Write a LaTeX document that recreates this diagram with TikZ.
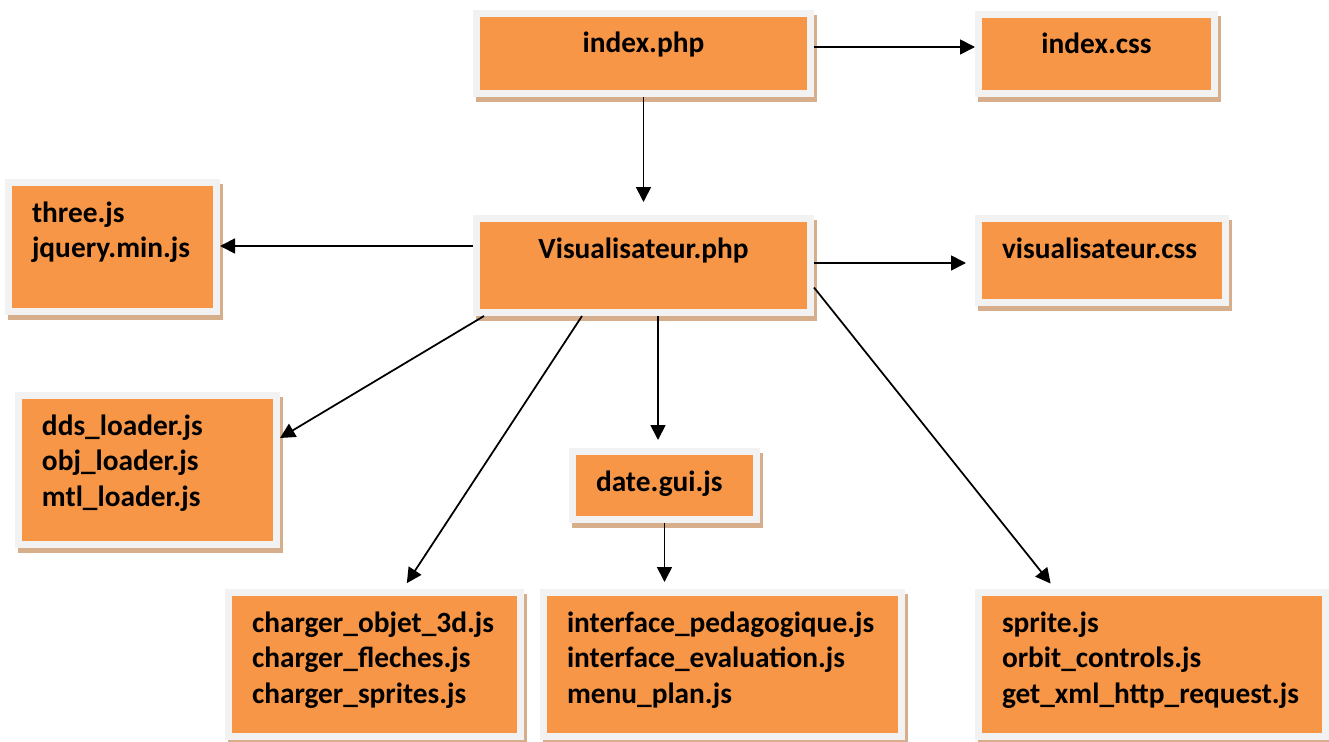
\documentclass[tikz,border=0pt]{standalone}
\usepackage{fontspec}
\setmainfont{Carlito}
\usepackage{tikz}
\usetikzlibrary{positioning,calc,arrows.meta,shadows}
\definecolor{boxorange}{RGB}{247,150,70}
\definecolor{framegray}{RGB}{242,242,242}
\definecolor{shadowtan}{RGB}{214,174,140}

\begin{document}
\begin{tikzpicture}[
  filebox/.style 2 args={draw=framegray,line width=0.14cm,fill=boxorange,
            general shadow={draw=shadowtan,fill=shadowtan,line width=0.14cm,
                            shadow xshift=0.06cm,shadow yshift=-0.1cm},
            anchor=north west,inner xsep=0.47cm,inner ysep=0.29cm,
            text width=#1cm-0.94cm,text height=0.5cm,text depth=#2cm-1.08cm,
            align=left,font=\fontsize{16.7pt}{20.4pt}\selectfont\bfseries},
  arr/.style={-{Triangle[length=0.3cm,width=0.3cm]},line width=1pt,color=black}]
  \useasboundingbox (0,0) rectangle (26.58,-14.84);

  % pages and style sheets
  \node[filebox={6.68}{1.60},align=center] (idxphp)  at (9.46,-0.20)  {index.php};
  \node[filebox={4.72}{1.58},align=center] (idxcss)  at (19.50,-0.22) {index.css};
  \node[filebox={6.68}{1.88},align=center] (visu)    at (9.46,-4.30)  {Visualisateur.php};
  \node[filebox={4.94}{1.68}]              (visucss) at (19.50,-4.30) {visualisateur.css};

  % scripts
  \node[filebox={4.16}{2.58}] (libs)    at (0.10,-3.58)  {three.js\\jquery.min.js};
  \node[filebox={5.16}{2.98}] (loaders) at (0.30,-7.84)  {dds\_loader.js\\obj\_loader.js\\mtl\_loader.js};
  \node[filebox={3.68}{1.36}] (dategui) at (11.38,-8.96) {date.gui.js};
  \node[filebox={5.84}{2.88}] (charger) at (4.50,-11.78) {charger\_objet\_3d.js\\charger\_fleches.js\\charger\_sprites.js};
  \node[filebox={7.16}{2.88}] (iface)   at (10.80,-11.78) {interface\_pedagogique.js\\interface\_evaluation.js\\menu\_plan.js};
  \node[filebox={6.94}{2.88}] (sprite)  at (19.50,-11.78) {sprite.js\\orbit\_controls.js\\get\_xml\_http\_request.js};

  % links
  \draw[arr] ([yshift=0.13cm]idxphp.east) -- ([yshift=0.13cm]idxphp.east -| idxcss.west);
  \draw[arr,shorten >=0.26cm] (idxphp) -- (visu);
  \draw[arr] ([yshift=0.39cm]visu.west) -- ([yshift=0.39cm]visu.west -| libs.east);
  \draw[arr,shorten >=0.18cm] ([yshift=0.05cm]visu.east) -- ([yshift=0.05cm]visu.east -| visucss.west);
  \draw[arr] ([xshift=0.22cm]visu.south west) -- ([yshift=0.64cm]loaders.east);
  \draw[arr,shorten >=0.14cm] ([xshift=-1.23cm]visu.south) -- ([xshift=0.57cm]charger.north);
  \draw[arr,shorten >=0.16cm] ([xshift=0.29cm]visu.south) -- ([xshift=0.29cm]visu.south |- dategui.north);
  \draw[arr,shorten >=0.14cm] ([yshift=-0.44cm]visu.east) -- ([xshift=-1.94cm]sprite.north);
  \draw[arr,shorten >=0.14cm] (dategui.south) -- (dategui.south |- iface.north);
\end{tikzpicture}
\end{document}
